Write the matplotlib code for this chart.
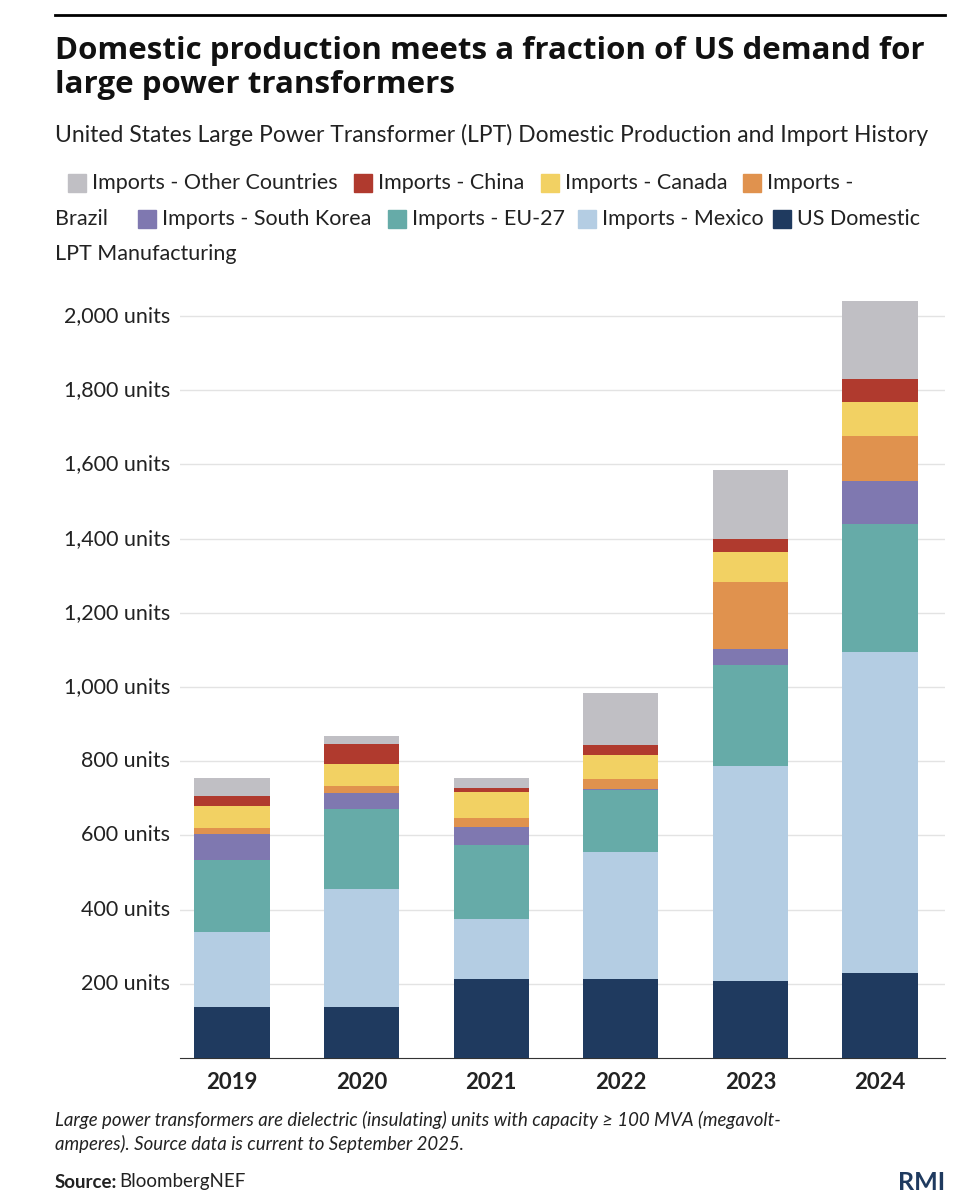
import matplotlib
matplotlib.use("Agg")
import matplotlib.pyplot as plt
from matplotlib.patches import Rectangle
import numpy as np

plt.rcParams['font.family'] = ['Lato', 'DejaVu Sans']

years = ["2019", "2020", "2021", "2022", "2023", "2024"]
series_names = ["US Domestic LPT Manufacturing", "Imports - Mexico", "Imports - EU-27",
                "Imports - South Korea", "Imports - Brazil", "Imports - Canada",
                "Imports - China", "Imports - Other Countries"]
domestic = [137, 137, 213, 213, 208, 229]
mexico = [203, 318, 162, 342, 579, 865]
eu27 = [194, 216, 199, 167, 272, 345]
south_korea = [70, 43, 49, 3, 43, 116]
brazil = [16, 19, 24, 27, 181, 122]
canada = [59, 59, 70, 65, 81, 91]
china = [27, 54, 11, 27, 35, 62]
other = [49, 22, 27, 140, 186, 210]
values = [domestic, mexico, eu27, south_korea, brazil, canada, china, other]
colors = ["#1f3a5f", "#b4cde3", "#66aba8", "#7f78b0", "#e0924e", "#f2d163", "#b03a2e", "#c0bfc4"]
yticks = [200, 400, 600, 800, 1000, 1200, 1400, 1600, 1800, 2000]

W, H = 968, 1200
fig = plt.figure(figsize=(9.68, 12), dpi=100)
def fx(x): return x / W
def fy(y): return 1 - y / H

ax = fig.add_axes([fx(180), fy(1058), fx(945) - fx(180), fy(290) - fy(1058)])
x = np.arange(len(years))
bottom = np.zeros(len(years))
for v, c in zip(values, colors):
    ax.bar(x, v, bottom=bottom, width=0.58, color=c, zorder=3)
    bottom += np.array(v)
ax.set_ylim(0, (1058 - 290) / 0.371)
ax.set_xlim((180 - 232) / 129.6, (945 - 232) / 129.6)
ax.set_yticks(yticks)
ax.set_yticklabels([])
for t in yticks:
    ax.text(fx(170), t, f"{t:,} units", transform=ax.get_yaxis_transform().__class__(fig.transFigure, ax.transData),
            ha="right", va="center", fontsize=15.5, color="#222222")
ax.yaxis.grid(True, color="#e3e3e3", lw=1, zorder=0)
ax.set_xticks(x)
ax.set_xticklabels(years, fontsize=16, fontweight="bold", color="#222222")
for s in ["top", "right", "left"]:
    ax.spines[s].set_visible(False)
ax.spines["bottom"].set_color("#333333")
ax.tick_params(axis="both", length=0)
ax.tick_params(axis="x", pad=10)

fig.add_artist(plt.Line2D([fx(55), fx(945)], [fy(15), fy(15)], color="black", lw=2))
fig.text(fx(55), fy(68), "Domestic production meets a fraction of US demand for\nlarge power transformers",
         fontsize=22.5, fontweight="bold", va="center", ha="left", linespacing=1.15, color="#111111",
         family=["Open Sans", "DejaVu Sans"])
fig.text(fx(55), fy(135), "United States Large Power Transformer (LPT) Domestic Production and Import History",
         fontsize=16.5, va="center", ha="left", color="#222222")

legend_items = [
    (68, 183, "Imports - Other Countries", colors[7]),
    (354, 183, "Imports - China", colors[6]),
    (541, 183, "Imports - Canada", colors[5]),
    (743, 183, "Imports -", colors[4]),
    (138, 219, "Imports - South Korea", colors[3]),
    (388, 219, "Imports - EU-27", colors[2]),
    (578, 219, "Imports - Mexico", colors[1]),
    (773, 219, "US Domestic", colors[0]),
]
sq = 18
for (lx, ly, txt, c) in legend_items:
    fig.add_artist(Rectangle((fx(lx), fy(ly + sq / 2)), sq / W, sq / H, color=c, transform=fig.transFigure))
    fig.text(fx(lx + 24), fy(ly), txt, fontsize=15.5, va="center", ha="left", color="#222222")
fig.text(fx(55), fy(219), "Brazil", fontsize=15.5, va="center", ha="left", color="#222222")
fig.text(fx(55), fy(254), "LPT Manufacturing", fontsize=15.5, va="center", ha="left", color="#222222")

fig.text(fx(55), fy(1132), "Large power transformers are dielectric (insulating) units with capacity ≥ 100 MVA (megavolt-\namperes). Source data is current to September 2025.",
         fontsize=13.4, style="italic", va="center", ha="left", color="#222222", linespacing=1.35)
fig.text(fx(55), fy(1182), "Source:", fontsize=13.5, fontweight="bold", va="center", ha="left", color="#222222")
fig.text(fx(119), fy(1182), "BloombergNEF", fontsize=13.5, va="center", ha="left", color="#222222")
fig.text(fx(945), fy(1182), "RMI", fontsize=18, fontweight="bold", va="center", ha="right", color="#1f3a5f")

fig.savefig("out.png", dpi=100)
